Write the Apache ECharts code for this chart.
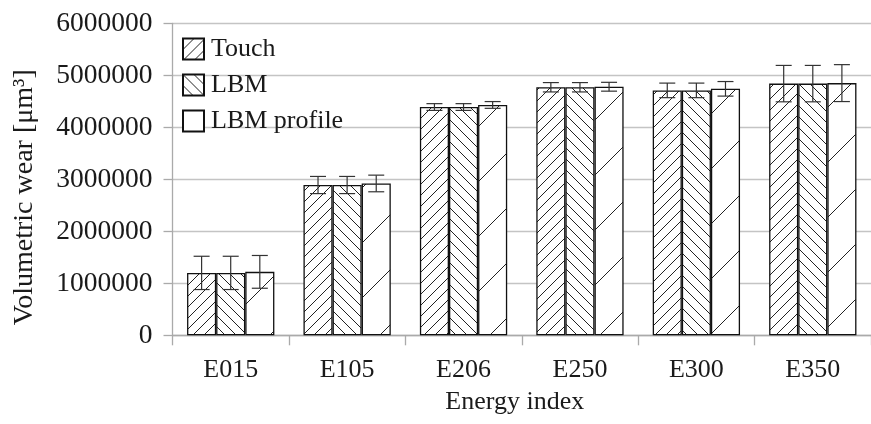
<!DOCTYPE html>
<html>
<head>
<meta charset="utf-8">
<script src="https://cdn.jsdelivr.net/npm/echarts@6/dist/echarts.min.js"></script>
<style>
  html, body { margin: 0; padding: 0; background: #fff; }
  #chart { width: 871px; height: 424px; }
</style>
</head>
<body>
<div id="chart"></div>
<script>
// dane
const categories = ['E015', 'E105', 'E206', 'E250', 'E300', 'E350'];
const seriesNames = ['Touch', 'LBM', 'LBM profile'];
const touch = [1200000, 2890000, 4390000, 4770000, 4710000, 4840000];
const lbm = [1200000, 2890000, 4390000, 4770000, 4710000, 4840000];
const lbmProfile = [1220000, 2920000, 4430000, 4780000, 4740000, 4850000];
const touchErr = [320000, 165000, 65000, 90000, 140000, 350000];
const lbmErr = [320000, 165000, 65000, 90000, 140000, 350000];
const lbmProfileErr = [315000, 160000, 65000, 85000, 140000, 355000];
const yTicks = [0, 1000000, 2000000, 3000000, 4000000, 5000000, 6000000];

const FONT = '"Liberation Serif", "DejaVu Serif", serif';
const INK = '#1a1a1a';

// kafelek z kreskowaniem: dir 1 = '/', dir -1 = '\'
function hatch(size, dir) {
  const c = document.createElement('canvas');
  c.width = size; c.height = size;
  const ctx = c.getContext('2d');
  ctx.fillStyle = '#fff';
  ctx.fillRect(0, 0, size, size);
  ctx.strokeStyle = '#222';
  ctx.lineWidth = 1;
  for (let k = -1; k <= 1; k++) {
    ctx.beginPath();
    if (dir > 0) {
      ctx.moveTo(k * size, size);
      ctx.lineTo(k * size + size, 0);
    } else {
      ctx.moveTo(k * size, 0);
      ctx.lineTo(k * size + size, size);
    }
    ctx.stroke();
  }
  return c;
}

const fills = [
  { image: hatch(11, 1), repeat: 'repeat' },
  { image: hatch(11, -1), repeat: 'repeat' },
  { image: hatch(55, 1), repeat: 'repeat' }
];
const values = [touch, lbm, lbmProfile];
const errors = [touchErr, lbmErr, lbmProfileErr];

const chart = echarts.init(document.getElementById('chart'));

const barSeries = seriesNames.map((name, i) => ({
  name: name,
  type: 'bar',
  data: values[i],
  barGap: '0%',
  barCategoryGap: '25%',
  itemStyle: { color: fills[i], borderColor: '#111', borderWidth: 1.3 },
  emphasis: { disabled: true },
  z: 2
}));

const errSeries = seriesNames.map((name, i) => ({
  type: 'custom',
  name: name + ' err',
  z: 5,
  silent: true,
  data: values[i].map((v, j) => [j, v - errors[i][j], v + errors[i][j]]),
  renderItem: function (params, api) {
    const catW = api.size([1, 0])[0];
    const bw = catW * 0.75 / 3;
    const lo = api.coord([api.value(0), api.value(1)]);
    const hi = api.coord([api.value(0), api.value(2)]);
    const x = lo[0] + (i - 1) * bw;
    const cap = 8;
    const st = { stroke: '#333', lineWidth: 1.2 };
    return {
      type: 'group',
      children: [
        { type: 'line', shape: { x1: x, y1: lo[1], x2: x, y2: hi[1] }, style: st },
        { type: 'line', shape: { x1: x - cap, y1: lo[1], x2: x + cap, y2: lo[1] }, style: st },
        { type: 'line', shape: { x1: x - cap, y1: hi[1], x2: x + cap, y2: hi[1] }, style: st }
      ]
    };
  }
}));

chart.setOption({
  animation: false,
  textStyle: { fontFamily: FONT },
  grid: { left: 172.5, right: -6.5, top: 23.3, bottom: 88.7, containLabel: false },
  legend: {
    orient: 'vertical',
    left: 177,
    top: 31,
    icon: 'rect',
    itemWidth: 21,
    itemHeight: 21,
    itemGap: 10,
    selectedMode: false,
    data: [
      { name: 'Touch' },
      { name: 'LBM' },
      { name: 'LBM profile', itemStyle: { color: '#fff' } }
    ],
    textStyle: { fontFamily: FONT, fontSize: 26, color: INK, padding: [0, 0, 0, 2] }
  },
  xAxis: {
    type: 'category',
    data: categories,
    name: 'Energy index',
    nameLocation: 'middle',
    nameGap: 54,
    nameTextStyle: { fontFamily: FONT, fontSize: 26, color: INK, padding: [0, 14, 0, 0] },
    axisLine: { lineStyle: { color: '#aaa', width: 1.3 } },
    axisTick: { show: true, length: 10, lineStyle: { color: '#aaa', width: 1.3 } },
    axisLabel: { fontFamily: FONT, fontSize: 26, color: INK, margin: 22 }
  },
  yAxis: {
    type: 'value',
    min: yTicks[0],
    max: yTicks[yTicks.length - 1],
    interval: yTicks[1] - yTicks[0],
    name: 'Volumetric wear [μm³]',
    nameLocation: 'middle',
    nameGap: 134,
    nameTextStyle: { fontFamily: FONT, fontSize: 28, color: INK, padding: [0, 36, 0, 0] },
    axisLine: { show: true, lineStyle: { color: '#aaa', width: 1.3 } },
    axisTick: { show: true, length: 9, lineStyle: { color: '#aaa', width: 1.3 } },
    axisLabel: { fontFamily: FONT, fontSize: 27.5, color: INK, margin: 20, formatter: v => String(v) },
    splitLine: { lineStyle: { color: '#c4c4c4', width: 1.3 } }
  },
  series: barSeries.concat(errSeries)
});
</script>
</body>
</html>
